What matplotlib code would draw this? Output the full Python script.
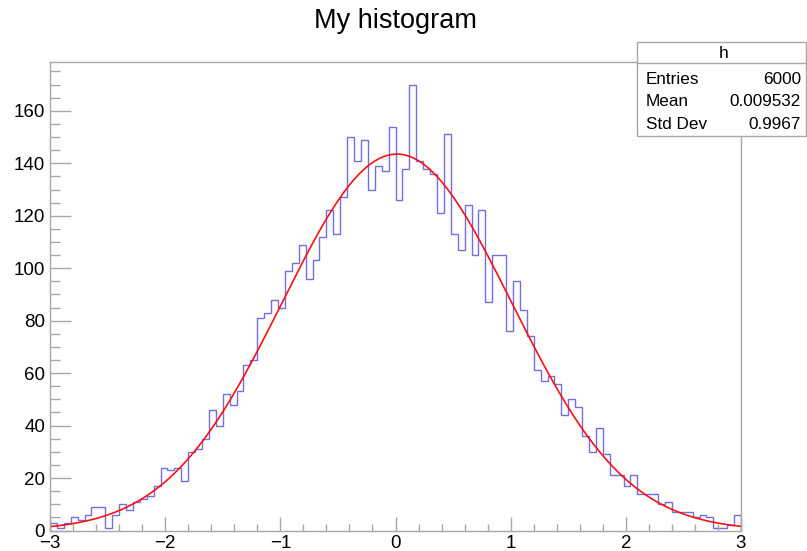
import numpy as np
import matplotlib
matplotlib.use("Agg")
import matplotlib.pyplot as plt
from matplotlib.ticker import MultipleLocator

plt.rcParams['font.family'] = ['Liberation Sans', 'DejaVu Sans']

# ---- data ----
x_min, x_max, n_bins = -3.0, 3.0, 100
counts = [
    3, 1, 3, 5, 4, 6, 9, 9, 1, 6, 10, 8, 11, 12, 13, 17, 24, 23,
    24, 19, 30, 31, 35, 46, 40, 52, 48, 53, 63, 65, 81, 83, 88, 85,
    99, 102, 109, 96, 103, 112, 122, 113, 127, 150, 141, 149, 130, 139, 137, 154, 126,
    138, 170, 141, 138, 136, 121, 151, 113, 107, 124, 105, 122, 87, 105, 105, 76, 95,
    84, 74, 61, 57, 59, 56, 44, 50, 47, 36, 30, 39, 29, 21, 21, 17,
    21, 14, 14, 14, 10, 11, 7, 7, 7, 5, 6, 5, 1, 1, 2, 6,
]
fit_constant = 143.5
fit_mean = 0.012
fit_sigma = 0.995
stat_title = "h"
stat_labels = ["Entries", "Mean", "Std Dev"]
stat_values = ["6000", "0.009532", "0.9967"]
title = "My histogram"

W, H = 807, 551
fig = plt.figure(figsize=(W / 100, H / 100), dpi=100)
ax = fig.add_axes([50 / W, 1 - 530.5 / H, (741 - 50) / W, (530.5 - 62.3) / H])

edges = np.linspace(x_min, x_max, n_bins + 1)
ax.stairs(counts, edges, color='#7070e0', linewidth=1.0)

xf = np.linspace(x_min, x_max, 400)
yf = fit_constant * np.exp(-0.5 * ((xf - fit_mean) / fit_sigma) ** 2)
ax.plot(xf, yf, color='#ff1010', linewidth=1.2)

ax.set_xlim(x_min, x_max)
ax.set_ylim(0, 1.05 * max(counts))

frame_col = '#a8a8a8'
for side in ['left', 'bottom', 'top', 'right']:
    ax.spines[side].set_color(frame_col)
    ax.spines[side].set_linewidth(1.0)

ax.xaxis.set_major_locator(MultipleLocator(1))
ax.xaxis.set_minor_locator(MultipleLocator(0.2))
ax.yaxis.set_major_locator(MultipleLocator(20))
ax.yaxis.set_minor_locator(MultipleLocator(5))
ax.tick_params(axis='x', which='major', direction='in', length=10, width=1,
               color=frame_col, labelsize=13.5, pad=3.5, top=False)
ax.tick_params(axis='x', which='minor', direction='in', length=5, width=1,
               color=frame_col, top=False)
ax.tick_params(axis='y', which='major', direction='in', length=15, width=1,
               color=frame_col, labelsize=13.5, pad=3.5, right=False)
ax.tick_params(axis='y', which='minor', direction='in', length=7.5, width=1,
               color=frame_col, right=False)

fig.text(395 / W, 1 - 20.5 / H, title, ha='center', va='center', fontsize=19.5)

# stats box
bx0, bx1, by0, by1 = 637, 806, 41.7, 136.0
box = plt.Rectangle((bx0 / W, 1 - by1 / H), (bx1 - bx0) / W, (by1 - by0) / H,
                    transform=fig.transFigure, facecolor='white',
                    edgecolor=frame_col, linewidth=1.0, zorder=5)
fig.add_artist(box)
hline = plt.Line2D([bx0 / W, bx1 / W], [1 - 63.3 / H, 1 - 63.3 / H],
                   transform=fig.transFigure, color=frame_col, linewidth=1.0, zorder=6)
fig.add_artist(hline)
fig.text(724 / W, 1 - 53.5 / H, stat_title, ha='center', va='center',
         fontsize=12.5, zorder=7)
row_y = [79.3, 101.7, 124.3]
for lab, val, ry in zip(stat_labels, stat_values, row_y):
    fig.text(646 / W, 1 - ry / H, lab, ha='left', va='center', fontsize=12.3, zorder=7)
    fig.text(801 / W, 1 - ry / H, val, ha='right', va='center', fontsize=12.3, zorder=7)

fig.savefig("out.png", dpi=100)
